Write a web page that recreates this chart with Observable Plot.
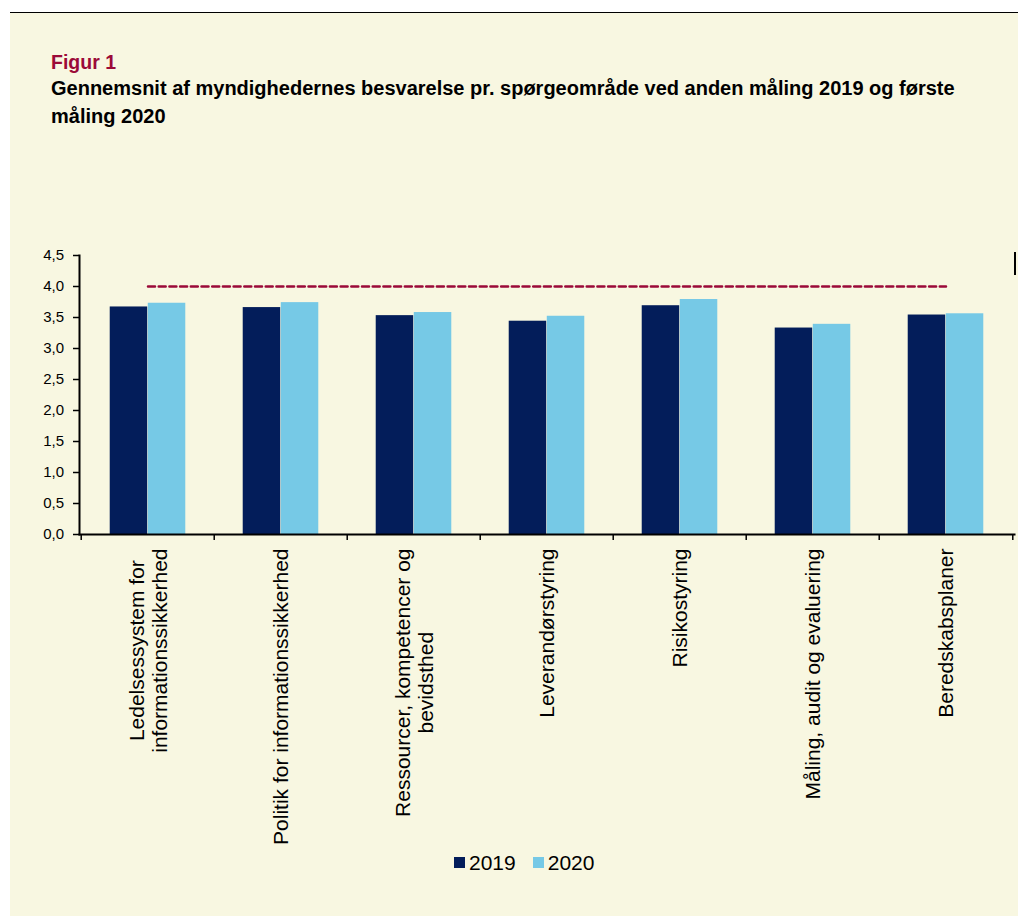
<!DOCTYPE html>
<html><head><meta charset="utf-8">
<script src="https://cdn.jsdelivr.net/npm/d3@7"></script>
<script src="https://cdn.jsdelivr.net/npm/@observablehq/plot@0.6"></script>
<style>
body{margin:0;background:#fff;font-family:"Liberation Sans",Arial,sans-serif;}
#panel{position:absolute;left:10px;top:11.5px;width:1008px;height:903px;background:#f8f7e1;border-top:1.5px solid #000;}
#fig{position:absolute;left:41px;top:35.5px;font-size:19.5px;line-height:28px;font-weight:bold;color:#9b0a38;}
#title{position:absolute;left:41px;top:61.5px;font-size:20px;line-height:28px;font-weight:bold;color:#000;white-space:nowrap;}
#chart{position:absolute;left:0;top:227px;}
#legend{position:absolute;left:444px;top:836px;display:flex;align-items:center;font-size:21px;line-height:28px;color:#000;}
#legend .sw{width:11px;height:11px;margin-right:4px;}
#legend .item{display:flex;align-items:center;margin-right:17px;}
#mark{position:absolute;left:1004px;top:239px;width:1.5px;height:23px;background:#000;}
</style></head><body>
<div id="panel">
  <div id="fig">Figur 1</div>
  <div id="title">Gennemsnit af myndighedernes besvarelse pr. spørgeområde ved anden måling 2019 og første<br>måling 2020</div>
  <div id="chart"></div>
  <div id="legend"></div>
  <div id="mark"></div>
</div>
<script>
const categories = ["Ledelsessystem for informationssikkerhed", "Politik for informationssikkerhed", "Ressourcer, kompetencer og bevidsthed", "Leverandørstyring", "Risikostyring", "Måling, audit og evaluering", "Beredskabsplaner"];
const tickLabels = ["Ledelsessystem for\ninformationssikkerhed", "Politik for informationssikkerhed", "Ressourcer, kompetencer og\nbevidsthed", "Leverandørstyring", "Risikostyring", "Måling, audit og evaluering", "Beredskabsplaner"];
const series = ["2019", "2020"];
const values2019 = [3.67, 3.66, 3.53, 3.44, 3.69, 3.33, 3.54];
const values2020 = [3.73, 3.74, 3.58, 3.52, 3.79, 3.39, 3.56];
const target = 4.0;
const yTicks = [0, 0.5, 1, 1.5, 2, 2.5, 3, 3.5, 4, 4.5];
const colors = ["#031d5a", "#76c9e6"];

const W = 1008, H = 610, ML = 69, MR = 4, MT = 15, MB = 316;
const bw = (W - ML - MR) / categories.length;
const barW = bw * 0.285;

const rows2019 = categories.map((c, i) => ({cat: c, v: values2019[i]}));
const rows2020 = categories.map((c, i) => ({cat: c, v: values2020[i]}));
const targetRows = categories.map(c => ({cat: c, v: target}));
const last = categories[categories.length - 1];

const plot = Plot.plot({
  width: W, height: H,
  marginLeft: ML, marginRight: MR, marginTop: MT, marginBottom: MB,
  style: {background: "transparent", fontFamily: "'Liberation Sans', Arial, sans-serif", color: "#000"},
  x: {domain: categories, padding: 0, label: null},
  y: {domain: [0, 4.5], label: null},
  marks: [
    Plot.barY(rows2019, {x: "cat", y: "v", fill: colors[0], insetLeft: bw / 2 - barW, insetRight: bw / 2}),
    Plot.barY(rows2020, {x: "cat", y: "v", fill: colors[1], insetLeft: bw / 2, insetRight: bw / 2 - barW}),
    Plot.lineY(targetRows, {x: "cat", y: "v", stroke: "#9b0a38", strokeWidth: 2.5, strokeDasharray: "7,3.7"}),
    Plot.frame({anchor: "left", stroke: "#000", strokeWidth: 2}),
    Plot.frame({anchor: "bottom", stroke: "#000", strokeWidth: 2}),
    Plot.ruleX(categories, {x: d => d, y1: 0, y2: 0, dx: -bw / 2, insetBottom: -6, stroke: "#000", strokeWidth: 1.5}),
    Plot.ruleX([last], {x: d => d, y1: 0, y2: 0, dx: bw / 2, insetBottom: -6, stroke: "#000", strokeWidth: 1.5}),
    Plot.axisY(yTicks, {tickSize: 6, tickPadding: 9.5, fontSize: 15, stroke: "#000", strokeWidth: 1.5,
      tickFormat: d => d.toFixed(1).replace(".", ","), label: null}),
    Plot.axisX({tickSize: 0, tickPadding: 14, tickRotate: -90, fontSize: 21, lineHeight: 1.1,
      tickFormat: d => tickLabels[categories.indexOf(d)], label: null})
  ]
});
document.getElementById("chart").appendChild(plot);

// center multi-line tick labels against each other
plot.querySelectorAll('g[aria-label="x-axis tick label"] text').forEach(t => {
  const spans = t.querySelectorAll("tspan");
  if (spans.length > 1) {
    let m = 0;
    spans.forEach(s => m = Math.max(m, s.getComputedTextLength()));
    t.setAttribute("text-anchor", "middle");
    spans.forEach(s => s.setAttribute("x", -m / 2));
  }
});

const legend = document.getElementById("legend");
series.forEach((s, i) => {
  const item = document.createElement("div");
  item.className = "item";
  const sw = document.createElement("div");
  sw.className = "sw";
  sw.style.background = colors[i];
  const lab = document.createElement("span");
  lab.textContent = s;
  item.appendChild(sw); item.appendChild(lab);
  legend.appendChild(item);
});
</script>
</body></html>
